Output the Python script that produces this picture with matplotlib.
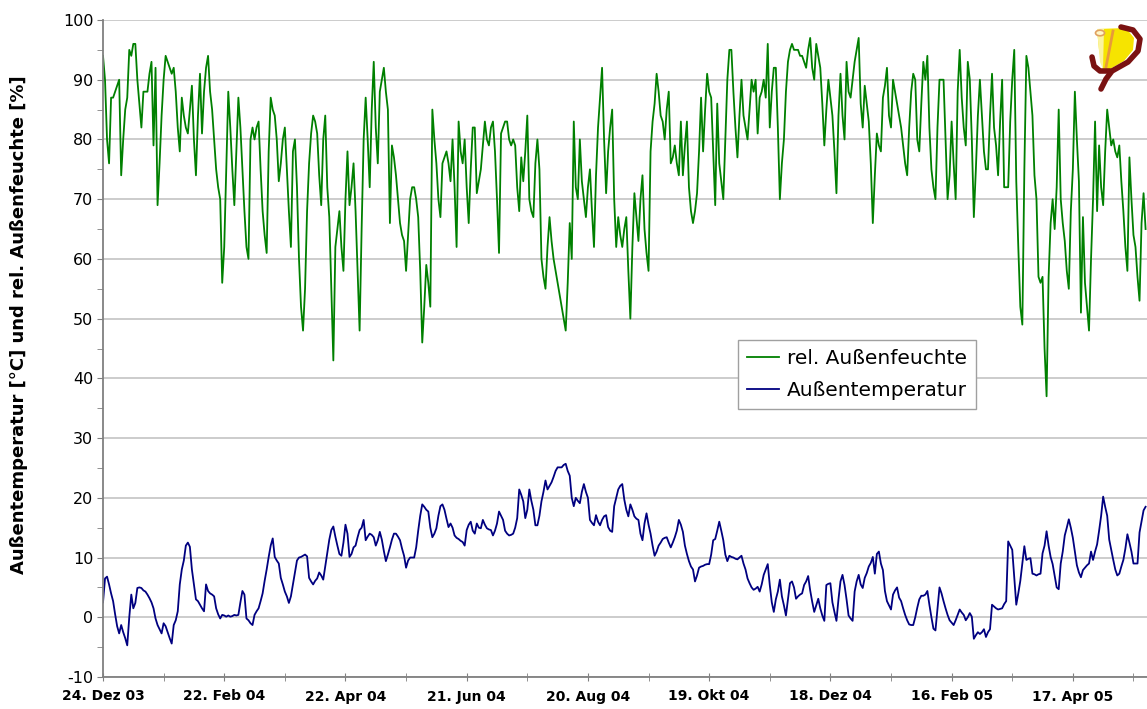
import numpy as np
import pandas as pd
import matplotlib
matplotlib.use("Agg")
import matplotlib.pyplot as plt
import matplotlib.dates as mdates
from matplotlib.patches import Polygon, Circle

plt.rcParams["axes.unicode_minus"] = False

# Daily readings starting 24 Dec 2003;
start_date = "2003-12-24"

tick_labels = ["24. Dez 03", "22. Feb 04", "22. Apr 04", "21. Jun 04", "20. Aug 04",
               "19. Okt 04", "18. Dez 04", "16. Feb 05", "17. Apr 05"]

# rel. Außenfeuchte [%];
humidity = [
    94, 90, 80, 76, 87, 87, 88, 89, 90, 74,
    80, 85, 87, 95, 94, 96, 96, 90, 86, 82,
    88, 88, 88, 91, 93, 79, 92, 69, 76, 84,
    90, 94, 93, 92, 91, 92, 88, 82, 78, 87,
    84, 82, 81, 85, 89, 80, 74, 84, 91, 81,
    88, 92, 94, 88, 85, 80, 75, 72, 70, 56,
    62, 75, 88, 82, 75, 69, 78, 87, 82, 75,
    68, 62, 60, 80, 82, 80, 82, 83, 75, 68,
    64, 61, 78, 87, 85, 84, 80, 73, 76, 80,
    82, 75, 68, 62, 78, 80, 72, 60, 52, 48,
    55, 68, 76, 81, 84, 83, 81, 74, 69, 80,
    84, 72, 67, 55, 43, 62, 65, 68, 62, 58,
    70, 78, 69, 72, 76, 68, 58, 48, 65, 80,
    87, 80, 72, 85, 93, 82, 76, 88, 90, 92,
    88, 85, 66, 79, 77, 74, 70, 66, 64, 63,
    58, 64, 70, 72, 72, 70, 67, 58, 46, 52,
    59, 56, 52, 85, 80, 76, 70, 67, 76, 77,
    78, 76, 73, 80, 72, 62, 83, 78, 76, 80,
    72, 66, 75, 82, 82, 71, 73, 75, 79, 83,
    80, 79, 82, 83, 78, 70, 61, 81, 82, 83,
    83, 80, 79, 80, 79, 72, 68, 77, 73, 78,
    84, 70, 68, 67, 76, 80, 75, 60, 57, 55,
    62, 67, 63, 60, 58, 56, 54, 52, 50, 48,
    56, 66, 60, 83, 72, 70, 80, 73, 70, 67,
    72, 75, 68, 62, 74, 82, 87, 92, 80, 71,
    78, 82, 85, 70, 62, 67, 64, 62, 65, 67,
    58, 50, 62, 71, 67, 63, 70, 74, 65, 61,
    58, 78, 83, 86, 91, 88, 84, 83, 80, 85,
    88, 76, 77, 79, 76, 74, 83, 74, 79, 83,
    72, 68, 66, 68, 71, 78, 87, 78, 85, 91,
    88, 87, 78, 69, 86, 76, 73, 70, 80, 90,
    95, 95, 88, 82, 77, 84, 90, 84, 82, 80,
    85, 90, 88, 90, 81, 87, 88, 90, 87, 96,
    82, 88, 92, 92, 82, 70, 76, 80, 88, 93,
    95, 96, 95, 95, 95, 94, 94, 93, 92, 95,
    97, 92, 90, 96, 94, 92, 86, 79, 85, 90,
    87, 84, 78, 71, 84, 91, 84, 80, 93, 88,
    87, 90, 93, 95, 97, 86, 82, 89, 86, 83,
    76, 66, 74, 81, 79, 78, 87, 89, 92, 84,
    82, 90, 88, 86, 84, 82, 79, 76, 74, 82,
    88, 91, 90, 80, 78, 86, 93, 90, 94, 82,
    75, 72, 70, 82, 90, 90, 90, 80, 70, 74,
    83, 76, 70, 88, 95, 87, 82, 79, 93, 90,
    80, 67, 75, 84, 90, 84, 78, 75, 75, 84,
    91, 82, 79, 74, 83, 90, 72, 72, 72, 83,
    90, 95, 73, 62, 52, 49, 75, 94, 92, 88,
    84, 74, 70, 57, 56, 57, 45, 37, 57, 66,
    70, 65, 72, 85, 70, 66, 63, 58, 55, 68,
    75, 88, 80, 73, 51, 67, 56, 52, 48, 60,
    70, 83, 68, 79, 72, 69, 78, 85, 82, 79,
    80, 78, 77, 79, 73, 68, 62, 58, 77, 70,
    64, 62, 57, 53, 66, 71, 65,
]

# Außentemperatur [°C];
temperature = [
    2.5, 6.5, 6.8, 5.5, 4, 2.7, 0.5, -1.5, -2.7, -1.3,
    -2.5, -3.5, -4.7, 0, 3.8, 1.5, 2.4, 4.9, 5, 4.9,
    4.5, 4.3, 3.8, 3.2, 2.5, 1.5, -0.2, -1.3, -2, -2.7,
    -1, -1.5, -2.5, -3.5, -4.4, -1.3, -0.5, 1, 5.5, 8,
    9.5, 12, 12.5, 11.8, 8, 5.5, 3, 2.7, 2.1, 1.5,
    1, 5.5, 4.4, 4, 3.8, 3.5, 1.5, 0.5, -0.2, 0.4,
    0.3, 0.1, 0.3, 0.1, 0.2, 0.4, 0.3, 0.4, 2.5, 4.4,
    3.8, -0.2, -0.5, -1, -1.3, 0.4, 1, 1.5, 2.7, 4,
    6.1, 8, 10.1, 12, 13.2, 10.1, 9.5, 9, 6.6, 5.5,
    4.3, 3.5, 2.4, 3.5, 5.5, 7.5, 9.5, 10, 10.1, 10.3,
    10.5, 10.2, 6.6, 6, 5.5, 6.1, 6.5, 7.5, 7, 6.3,
    8.5, 10.6, 13, 14.6, 15.2, 13.5, 12, 10.6, 10.3, 12.5,
    15.5, 14, 10.1, 10.6, 11.7, 12, 13.4, 14.6, 15, 16.3,
    12.9, 13.5, 14, 13.8, 13.4, 12, 12.9, 14.3, 13, 11.1,
    9.4, 10.5, 11.7, 13, 14, 14, 13.5, 12.9, 11.5, 10.3,
    8.3, 9.5, 10, 10, 10, 11.7, 14.5, 17, 18.9, 18.5,
    18, 17.7, 15, 13.4, 14, 14.9, 17, 18.6, 18.9, 18,
    16.5, 15.1, 15.7, 15, 13.7, 13.3, 13.1, 12.8, 12.6, 12,
    14.6, 15.5, 16, 14.5, 14, 15.7, 15, 14.9, 16.3, 15.5,
    14.9, 14.7, 14.6, 13.7, 14.5, 15.7, 17.7, 17, 16.3, 14.5,
    14, 13.7, 13.8, 14, 15, 16.6, 21.4, 20.5, 19.4, 16.6,
    18, 21.4, 19.5, 18, 15.4, 15.4, 17, 19.4, 21, 22.9,
    21.4, 22, 22.6, 23.5, 24.5, 25.1, 25.1, 25.1, 25.5, 25.7,
    24.5, 23.7, 20, 18.6, 20, 19.5, 19.1, 21, 22.3, 21,
    20, 16.3, 15.8, 15.4, 17.1, 16, 15.4, 16.3, 16.9, 17.1,
    15.1, 14.5, 14.3, 18.6, 20, 21.4, 22, 22.3, 19.7, 18,
    16.9, 18.9, 18, 16.9, 16.5, 16.3, 14, 12.9, 15.7, 17.4,
    15.5, 14, 12, 10.3, 11, 12, 12.5, 13.1, 13.3, 13.4,
    12.5, 11.7, 12.5, 13.4, 14.5, 16.3, 15.5, 14.3, 12, 10.6,
    9.4, 8.5, 8, 6, 7, 8.3, 8.5, 8.6, 8.8, 8.9,
    8.9, 10.5, 12.9, 13.1, 14.5, 16, 14.5, 12.9, 10.5, 9.4,
    10.3, 10.1, 10, 9.8, 9.7, 10, 10.3, 9, 8, 6.5,
    5.7, 5, 4.6, 4.8, 5.1, 4.3, 5.5, 7.1, 8, 8.9,
    5.4, 2.5, 0.9, 3, 4.3, 6.3, 3.5, 2, 0.3, 3,
    5.7, 6, 5, 3.1, 3.5, 3.8, 4, 5.4, 6, 6.9,
    4.5, 2.6, 0.9, 2, 3.1, 1.5, 0.3, -0.6, 5.4, 5.6,
    5.7, 2.5, 0.9, -0.6, 3, 6, 7.1, 5.4, 3, 0.3,
    -0.2, -0.6, 4.3, 6, 7.1, 5.5, 4.9, 6.6, 7.4, 8.5,
    9.1, 10.1, 7.3, 10.6, 11, 9, 7.9, 4.4, 2.7, 2,
    1.3, 3.8, 4.5, 5, 3.3, 2.7, 1.5, 0.4, -0.5, -1.2,
    -1.3, -1.3, 0, 1.6, 3, 3.6, 3.6, 3.8, 4.4, 2.1,
    0, -1.9, -2.2, 1.5, 5, 4, 2.7, 1.5, 0.4, -0.5,
    -0.9, -1.3, -0.5, 0.4, 1.3, 0.8, 0.4, -0.5, 0, 0.7,
    0.1, -3.6, -3, -2.5, -2.8, -2.5, -2, -3.3, -2.5, -2,
    2.1, 1.8, 1.5, 1.3, 1.4, 1.5, 2.2, 2.7, 12.7, 12,
    11.3, 6.7, 2.1, 4, 6.1, 9, 11.9, 9.6, 9.8, 9.9,
    7.3, 7.2, 7, 7.2, 7.3, 10.7, 12, 14.4, 12, 10.1,
    8.9, 7, 5, 4.7, 9, 11, 13.7, 15, 16.4, 15,
    13.3, 11, 8.7, 7.5, 6.7, 7.9, 8.3, 8.7, 9, 11,
    9.6, 11, 12.2, 14.5, 17, 20.2, 18.5, 17, 13, 11.3,
    9.6, 8, 7, 7.3, 8.5, 9.6, 11.5, 13.9, 12.5, 11,
    9, 9, 9, 14.2, 16, 17.9, 18.5,
]

days = pd.date_range(start_date, periods=len(humidity), freq="D")
x = mdates.date2num(days)

W, H = 1147, 709
fig = plt.figure(figsize=(W / 100, H / 100), dpi=100)
ax = fig.add_axes([103 / W, 1 - 677 / H, 1 - 103 / W, (677 - 20) / H])

ax.plot(x, humidity, color="#008000", lw=1.3, label="rel. Außenfeuchte")
ax.plot(x, temperature, color="#000080", lw=1.3, label="Außentemperatur")

# Axes;
ax.set_ylim(-10, 100)
ax.set_xlim(x[0], x[0] + 516.7)
ax.set_yticks(range(-10, 101, 10))
ax.set_yticks(range(-5, 100, 10), minor=True)
major = mdates.date2num(pd.date_range(start_date, periods=len(tick_labels), freq="60D"))
ax.set_xticks(major)
ax.set_xticklabels(tick_labels, fontweight="bold", fontsize=10)
ax.set_xticks(major + 30, minor=True)
ax.tick_params(axis="y", which="both", direction="out", length=4, color="#808080",
               labelsize=11.5, pad=3)
ax.tick_params(axis="x", which="both", direction="inout", length=6, color="#808080", pad=6)
ax.yaxis.grid(True, color="#c8c8c8", lw=1.3)
ax.set_axisbelow(True)
for side in ("top", "right"):
    ax.spines[side].set_visible(False)
for side in ("left", "bottom"):
    ax.spines[side].set_color("#808080")
    ax.spines[side].set_linewidth(1.3)

ax.set_ylabel("Außentemperatur [°C] und rel. Außenfeuchte [%]", fontweight="bold",
              fontsize=13)
ax.yaxis.set_label_coords(-0.0718, 0.5365)

leg = ax.legend(loc="upper left", bbox_to_anchor=(0.608, 0.513), borderaxespad=0,
                fancybox=False, edgecolor="#a0a0a0", fontsize=14.5, handlelength=1.6,
                handletextpad=0.4, borderpad=0.45, labelspacing=0.65, framealpha=1)
leg.get_frame().set_linewidth(1.0)


# Logo in the top right corner (pixel coordinates of the picture);
def px(pts):
    return [(a / W, 1 - b / H) for a, b in pts]


fig.patches.append(Polygon(px([(1097, 29), (1126, 28), (1134, 38), (1133, 50),
                               (1124, 61), (1110, 69), (1103, 69), (1099, 50)]),
                           closed=True, transform=fig.transFigure,
                           facecolor="#f6e400", edgecolor="none"))
fig.patches.append(Polygon(px([(1097, 29), (1104, 29), (1103, 69), (1100, 62)]),
                           closed=True, transform=fig.transFigure,
                           facecolor="#fbf3a0", edgecolor="none"))
fig.lines.append(plt.Line2D(*zip(*px([(1113, 31), (1106, 67)])),
                            transform=fig.transFigure, color="#e89a3a", lw=2))
fig.lines.append(plt.Line2D(*zip(*px([(1121, 27), (1133, 30), (1140, 39), (1138, 51),
                                      (1128, 62), (1112, 71), (1106, 79), (1101, 89)])),
                            transform=fig.transFigure, color="#7a1212", lw=4,
                            solid_capstyle="round"))
fig.lines.append(plt.Line2D(*zip(*px([(1092, 57), (1094, 66), (1100, 71), (1110, 71)])),
                            transform=fig.transFigure, color="#7a1212", lw=4,
                            solid_capstyle="round"))
fig.patches.append(Circle((1100 / W, 1 - 33 / H), 4.5 / W, transform=fig.transFigure,
                          facecolor="#fff7c8", edgecolor="#e0a060", lw=1.2))

fig.savefig("out.png", dpi=100)
